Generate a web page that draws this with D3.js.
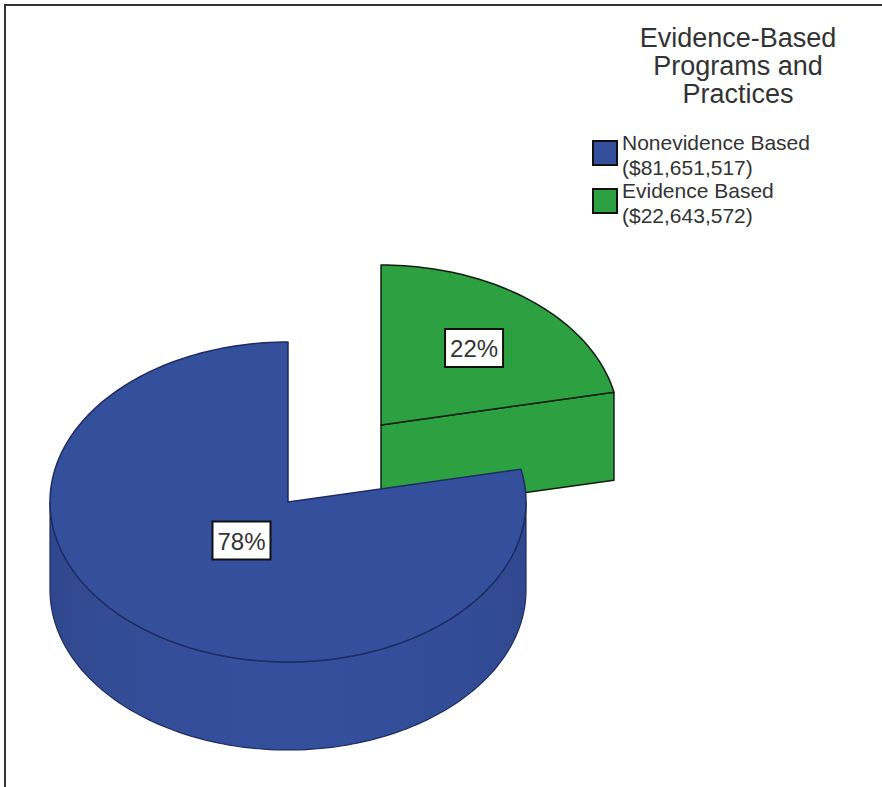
<!DOCTYPE html>
<meta charset="utf-8">
<script src="https://d3js.org/d3.v7.min.js"></script>
<style>
  body { margin: 0; background: #fff; }
  text { font-family: "Liberation Sans", Arial, sans-serif; }
</style>
<div id="chart"></div>
<script>

// chart data
var categories = ["Nonevidence Based", "Evidence Based"];
var amounts = [81651517, 22643572];
var colors = ["#344f9c", "#2da142"];
var titleLines = ["Evidence-Based", "Programs and", "Practices"];

var width = 882, height = 787;

var svg = d3.select("#chart")
  .append("svg")
    .attr("width", width)
    .attr("height", height);

// frame (only top and left edges show in the original)
svg.append("path")
  .attr("d", "M5," + height + "V5H" + width)
  .attr("fill", "none")
  .attr("stroke", "#333")
  .attr("stroke-width", 2);

// 3d pie layout
var cx = 288, cy = 502, rx = 238, ry = 160, depth = 88;
var explode = [0, 0.62];   // fraction of radius each slice is pulled out
var labelR = [0.31, 0.62]; // where the % box sits along the mid angle
var strokes = ["#1d2c62", "#0f1f0f"];

var pie = d3.pie().sort(null).startAngle(0).endAngle(-2 * Math.PI);
var arcs = pie(amounts);
var total = d3.sum(amounts);
var pct = d3.format(".0%");
var money = d3.format(",");

function pt(ox, oy, a, r, z) {
  return [ox + rx * r * Math.sin(a), oy - ry * r * Math.cos(a) + z];
}
function rim(ox, oy, a0, a1, z) {
  var n = Math.max(2, Math.ceil(Math.abs(a1 - a0) * 40));
  return d3.range(n + 1).map(function(i) { return pt(ox, oy, a0 + (a1 - a0) * i / n, 1, z); });
}
var line = d3.line().curve(d3.curveLinear);

// soft shading for the side walls
var defs = svg.append("defs");
colors.forEach(function(c, i) {
  var g = defs.append("linearGradient")
    .attr("id", "wall" + i)
    .attr("gradientUnits", "userSpaceOnUse")
    .attr("x1", cx - rx).attr("x2", cx + rx)
    .attr("y1", 0).attr("y2", 0);
  [[0, 0.28], [0.12, 0.12], [0.3, 0.02], [0.5, 0.0], [0.7, 0.04], [0.88, 0.1], [1, 0.25]].forEach(function(s) {
    g.append("stop").attr("offset", s[0]).attr("stop-color", d3.color(c).darker(s[1]));
  });
});

var slices = arcs.map(function(d, i) {
  var mid = (d.startAngle + d.endAngle) / 2;
  var o = pt(cx, cy, mid, explode[i], 0);
  return { d: d, i: i, mid: mid, ox: o[0], oy: o[1],
           lo: Math.min(d.startAngle, d.endAngle), hi: Math.max(d.startAngle, d.endAngle) };
});

// paint the farther slices first
slices.slice().sort(function(a, b) { return a.oy - b.oy; }).forEach(function(s) {
  var g = svg.append("g");
  var col = colors[s.i], st = strokes[s.i];

  // cut faces that turn toward the viewer
  [[s.lo, s.lo - Math.PI / 2], [s.hi, s.hi + Math.PI / 2]].forEach(function(e) {
    if (Math.cos(e[1]) < -1e-6) {
      var p = [[s.ox, s.oy], pt(s.ox, s.oy, e[0], 1, 0), pt(s.ox, s.oy, e[0], 1, depth), [s.ox, s.oy + depth]];
      g.append("path")
        .attr("d", line(p) + "Z")
        .attr("fill", col)
        .attr("stroke", st).attr("stroke-width", 1.5).attr("stroke-linejoin", "round");
    }
  });

  // outer wall: part of the rim facing front
  d3.range(-2, 2).forEach(function(k) {
    var a0 = Math.max(s.lo, Math.PI / 2 + 2 * Math.PI * k);
    var a1 = Math.min(s.hi, 3 * Math.PI / 2 + 2 * Math.PI * k);
    if (a1 > a0) {
      var p = rim(s.ox, s.oy, a0, a1, 0).concat(rim(s.ox, s.oy, a1, a0, depth));
      g.append("path")
        .attr("d", line(p) + "Z")
        .attr("fill", "url(#wall" + s.i + ")")
        .attr("stroke", st).attr("stroke-width", 1.2).attr("stroke-linejoin", "round");
    }
  });

  // top face
  var top = [[s.ox, s.oy]].concat(rim(s.ox, s.oy, s.lo, s.hi, 0));
  g.append("path")
    .attr("d", line(top) + "Z")
    .attr("fill", col)
    .attr("stroke", st).attr("stroke-width", 1.5).attr("stroke-linejoin", "round");
});

// percentage boxes
slices.forEach(function(s) {
  var p = pt(s.ox, s.oy, s.mid, labelR[s.i], 0);
  var lab = svg.append("g").attr("transform", "translate(" + p[0] + "," + p[1] + ")");
  lab.append("rect")
    .attr("x", -29).attr("y", -19)
    .attr("width", 58).attr("height", 38)
    .attr("fill", "#fff")
    .attr("stroke", "#111").attr("stroke-width", 2);
  lab.append("text")
    .attr("text-anchor", "middle")
    .attr("y", 9)
    .style("font-size", "24px")
    .attr("fill", "#333")
    .text(pct(amounts[s.i] / total));
});

// legend title
svg.append("g").selectAll("text")
  .data(titleLines)
  .enter()
  .append("text")
    .attr("x", 738)
    .attr("y", function(d, i) { return 47 + i * 28; })
    .attr("text-anchor", "middle")
    .style("font-size", "27px")
    .attr("fill", "#333")
    .text(function(d) { return d; });

// legend items
var item = svg.append("g").selectAll("g")
  .data(categories)
  .enter()
  .append("g")
    .attr("transform", function(d, i) { return "translate(593," + (141 + i * 48) + ")"; });

item.append("rect")
  .attr("width", 24).attr("height", 24)
  .attr("fill", function(d, i) { return colors[i]; })
  .attr("stroke", "#111").attr("stroke-width", 2);

item.append("text")
  .attr("x", 29).attr("y", 9)
  .style("font-size", "21px")
  .attr("fill", "#333")
  .text(function(d) { return d; });

item.append("text")
  .attr("x", 29).attr("y", 33.5)
  .style("font-size", "21px")
  .attr("fill", "#333")
  .text(function(d, i) { return "($" + money(amounts[i]) + ")"; });

</script>
